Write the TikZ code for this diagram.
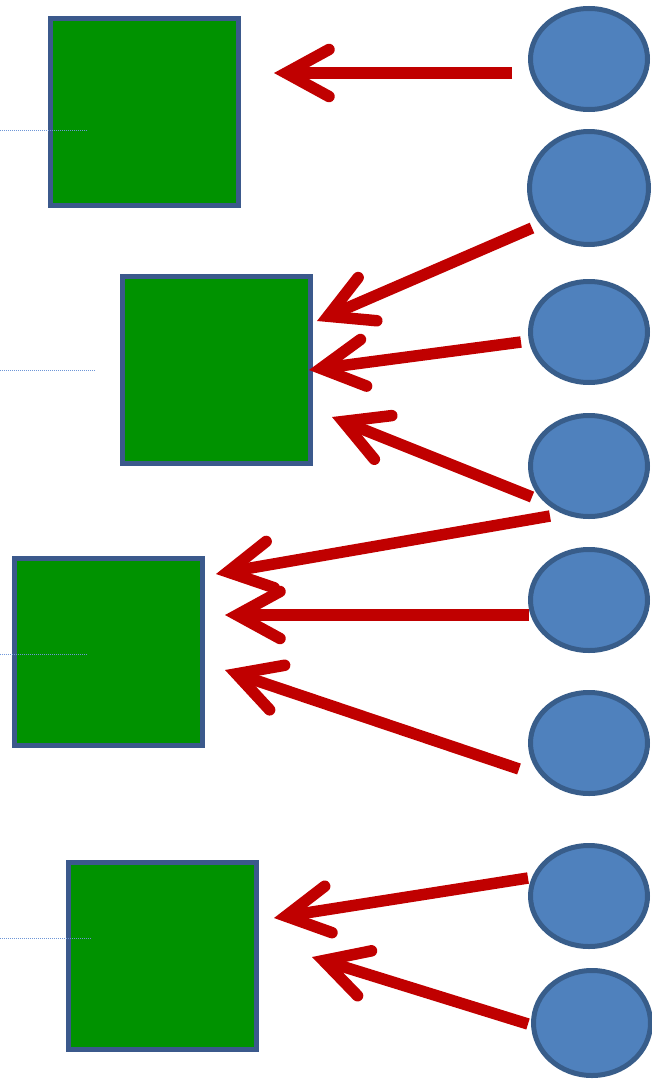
\documentclass[tikz,border=0pt]{standalone}
\usetikzlibrary{arrows.meta,shapes.geometric}
\definecolor{boxgreen}{RGB}{0,146,0}
\definecolor{boxedge}{RGB}{59,89,140}
\definecolor{discfill}{RGB}{79,129,189}
\definecolor{discedge}{RGB}{56,93,138}
\definecolor{arrowred}{RGB}{192,0,0}
\definecolor{guide}{RGB}{110,150,215}
\tikzset{
  box/.style={draw=boxedge, fill=boxgreen, line width=5pt, minimum width=188pt, minimum height=187pt, inner sep=0pt, outer sep=0pt},
  disc/.style={ellipse, draw=discedge, fill=discfill, line width=5pt, minimum width=117pt, minimum height=101pt, inner sep=0pt, outer sep=0pt},
  bigdisc/.style={disc, minimum width=119pt, minimum height=113pt},
  pointer/.style={draw=arrowred, line width=11.5pt, line cap=butt,
    -{Straight Barb[length=43pt, width=47pt, line cap=round, line join=miter]}},
  guideline/.style={draw=guide, line width=0.8pt, dash pattern=on 1pt off 1pt}
}
\begin{document}
\begin{tikzpicture}[x=1pt, y=-1pt]
\useasboundingbox (0,0) rectangle (652,1081);

% green boxes
\node[box] (s1) at (144.5,112) {};
\node[box] (s2) at (216,370) {};
\node[box] (s3) at (108,652) {};
\node[box] (s4) at (162.5,956) {};

% guide lines on the left
\coordinate (g1) at (0,130);  \coordinate (g1e) at (87,130);
\coordinate (g2) at (0,370);  \coordinate (g2e) at (95,370);
\coordinate (g3) at (0,654);  \coordinate (g3e) at (87,654);
\coordinate (g4) at (0,938);  \coordinate (g4e) at (91,938);
\draw[guideline] (g1) -- (g1e);
\draw[guideline] (g2) -- (g2e);
\draw[guideline] (g3) -- (g3e);
\draw[guideline] (g4) -- (g4e);

% blue discs on the right
\node[disc] (c1) at (589,59) {};
\node[bigdisc] (c2) at (589,188) {};
\node[disc] (c3) at (589,332) {};
\node[disc] (c4) at (589,466) {};
\node[disc] (c5) at (589,600) {};
\node[disc] (c6) at (589,743) {};
\node[disc] (c7) at (589,896) {};
\node[disc, minimum height=105pt] (c8) at (592,1023) {};

% arrow end points
\coordinate (a1s) at (512,73);   \coordinate (a1t) at (274,73);
\coordinate (a2s) at (532,228);  \coordinate (a2t) at (317,321);
\coordinate (a3s) at (521,342);  \coordinate (a3t) at (309,370);
\coordinate (a4s) at (532,497);  \coordinate (a4t) at (332,417);
\coordinate (a5s) at (550,516);  \coordinate (a5t) at (216,574);
\coordinate (a6s) at (529,615);  \coordinate (a6t) at (225,615);
\coordinate (a7s) at (519,769);  \coordinate (a7t) at (225,670);
\coordinate (a8s) at (528,878);  \coordinate (a8t) at (274,918);
\coordinate (a9s) at (528,1024); \coordinate (a9t) at (312,957);

% arrows
\draw[pointer] (a1s) -- (a1t);
\draw[pointer] (a2s) -- (a2t);
\draw[pointer] (a3s) -- (a3t);
\draw[pointer] (a4s) -- (a4t);
\draw[pointer] (a5s) -- (a5t);
\draw[pointer] (a6s) -- (a6t);
\draw[pointer] (a7s) -- (a7t);
\draw[pointer] (a8s) -- (a8t);
\draw[pointer] (a9s) -- (a9t);
\end{tikzpicture}
\end{document}
